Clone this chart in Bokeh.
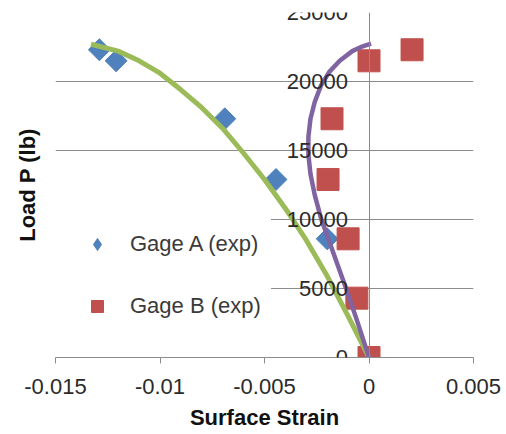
import numpy as np
from bokeh.plotting import figure
from bokeh.models import (Range1d, PrintfTickFormatter, Legend, LegendItem, FixedTicker,
                          LinearAxis)
from bokeh.embed import file_html
from bokeh.resources import INLINE

# Experimental data
strain_a = [0.0, -0.0020, -0.00445, -0.0069, -0.0121, -0.0129]
load_a = [0, 8600, 12900, 17300, 21500, 22300]
strain_b = [0.0, -0.00058, -0.0010, -0.00196, -0.00177, 0.0, 0.00206]
load_b = [0, 4300, 8600, 12900, 17300, 21500, 22300]

# Fitted curves
fit_a_strain = [0.0, -0.001, -0.002, -0.003, -0.004, -0.005, -0.006, -0.007,
                -0.008, -0.009, -0.010, -0.011, -0.012, -0.0133]
fit_a_load = [0, 3000, 5900, 8500, 10800, 12900, 14800, 16600,
              18100, 19400, 20600, 21500, 22200, 22700]
fit_b_strain = [0.0, -0.0006, -0.00105, -0.0015, -0.0019, -0.0023, -0.0026, -0.0028,
                -0.0029, -0.0029, -0.0028, -0.0026, -0.0023, -0.0019, -0.0014,
                -0.0008, -0.0003, 0.0001]
fit_b_load = [0, 2800, 4800, 6700, 8400, 10100, 11800, 13300,
              14700, 16000, 17300, 18500, 19700, 20700, 21500,
              22200, 22550, 22750]

x_ticks = [-0.015, -0.01, -0.005, 0, 0.005]
y_ticks = [0, 5000, 10000, 15000, 20000, 25000]

FONT = "Liberation Sans"
GRID = "#8c8c8c"

p = figure(width=506, height=434, output_backend="svg", toolbar_location=None,
           x_range=Range1d(-0.015, 0.005), y_range=Range1d(0, 25000),
           min_border_left=55, min_border_right=33, min_border_top=12, min_border_bottom=77)
p.outline_line_color = None
p.background_fill_color = "white"
p.border_fill_color = "white"

p.xgrid.visible = False
p.ygrid.ticker = FixedTicker(ticks=y_ticks)
p.ygrid.grid_line_color = GRID
p.ygrid.grid_line_width = 1

# x axis
xa = p.xaxis[0]
xa.ticker = FixedTicker(ticks=x_ticks)
xa.formatter = PrintfTickFormatter(format="%g")
xa.minor_tick_line_color = None
xa.major_tick_in = 0
xa.major_tick_out = 6
xa.major_tick_line_color = GRID
xa.axis_line_color = GRID
xa.major_label_text_font = FONT
xa.major_label_text_font_size = "22px"
xa.major_label_text_color = "#2a2a2a"
xa.major_label_text_line_height = 0.9
xa.major_label_standoff = 15
xa.axis_label = "Surface Strain"
xa.axis_label_text_font = FONT
xa.axis_label_text_font_size = "22px"
xa.axis_label_text_font_style = "bold"
xa.axis_label_text_color = "#111111"
xa.axis_label_text_line_height = 0.9
xa.axis_label_standoff = 8

# y axis placed at strain = 0
ya = p.yaxis[0]
ya.fixed_location = 0
ya.ticker = FixedTicker(ticks=y_ticks)
ya.minor_tick_line_color = None
ya.major_tick_in = 0
ya.major_tick_out = 0
ya.axis_line_color = GRID
ya.major_label_text_font = FONT
ya.major_label_text_font_size = "22px"
ya.major_label_text_color = "#2a2a2a"
ya.major_label_standoff = 21

# y axis title carried by a tick-less axis at the left edge
ytitle_axis = LinearAxis(ticker=FixedTicker(ticks=[]), axis_line_color=None,
                         major_tick_line_color=None, minor_tick_line_color=None,
                         axis_label="Load P (lb)", axis_label_text_font=FONT,
                         axis_label_text_font_size="22px", axis_label_text_font_style="bold",
                         axis_label_text_color="#111111", axis_label_standoff=16)
p.add_layout(ytitle_axis, "left")

BLUE = "#4F81BD"
RED = "#C0504D"
ra = p.scatter(strain_a, load_a, marker="square", angle=np.pi / 4, size=15.5,
               fill_color=BLUE, line_color=BLUE)
# diamond key glyph for the legend (sits under the red square at the origin)
ra_key = p.scatter(strain_a[:1], load_a[:1], marker="diamond", size=12,
                   fill_color=BLUE, line_color=BLUE)
rb = p.scatter(strain_b, load_b, marker="square", size=22,
               fill_color=RED, line_color=RED)
p.line(fit_a_strain, fit_a_load, line_width=5, line_color="#9BBB59")
p.line(fit_b_strain, fit_b_load, line_width=4.5, line_color="#8064A2")

legend = Legend(items=[LegendItem(label="Gage A (exp)", renderers=[ra_key]),
                       LegendItem(label="Gage B (exp)", renderers=[rb])],
                location=(0, 26), glyph_width=64, glyph_height=30, spacing=32,
                padding=9, label_standoff=1, border_line_color="white",
                background_fill_color="white", background_fill_alpha=1,
                label_text_font=FONT, label_text_font_size="22px",
                label_text_color="#3a3a3a")
p.add_layout(legend)

open("out.html", "w").write(file_html(p, INLINE))
